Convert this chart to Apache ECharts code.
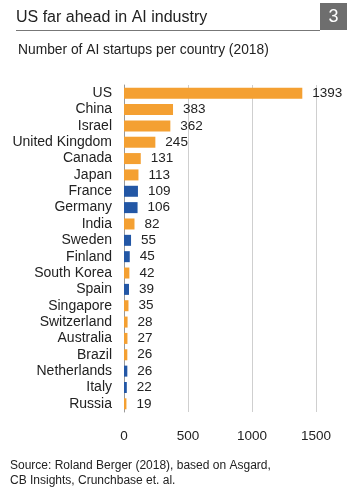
<!DOCTYPE html>
<html><head><meta charset="utf-8">
<script src="https://cdn.jsdelivr.net/npm/echarts@6/dist/echarts.min.js"></script>
<style>html,body{margin:0;padding:0;background:#fff;}#c{width:356px;height:493px;}</style>
</head><body><div id="c"></div>
<script>
const categories = ["US","China","Israel","United Kingdom","Canada","Japan","France","Germany","India","Sweden","Finland","South Korea","Spain","Singapore","Switzerland","Australia","Brazil","Netherlands","Italy","Russia"];
const startups = [1393,383,362,245,131,113,109,106,82,55,45,42,39,35,28,27,26,26,22,19];
const isEU = [false,false,false,false,false,false,true,true,false,true,true,false,true,false,false,false,false,true,true,false];
const xTicks = [0,500,1000,1500];
const ORANGE = '#F4A032', BLUE = '#2357A5';
const FONT = 'Liberation Sans';
const chart = echarts.init(document.getElementById('c'));
chart.setOption({
  animation:false,
  textStyle:{fontFamily:FONT},
  grid:{left:124,right:40,top:85,bottom:81,containLabel:false},
  xAxis:{type:'value',min:xTicks[0],max:xTicks[xTicks.length-1],interval:500,
    axisLine:{show:false},axisTick:{show:false},
    splitLine:{show:true,lineStyle:{color:'#cfcfcf',width:1}},
    axisLabel:{color:'#222',fontSize:13.5,fontFamily:FONT,margin:17,formatter:v=>String(v)}},
  yAxis:{type:'category',inverse:true,data:categories,
    axisLine:{show:true,lineStyle:{color:'#999',width:1}},axisTick:{show:false},
    axisLabel:{color:'#222',fontSize:14,fontFamily:FONT,margin:12,interval:0}},
  series:[{type:'bar',barWidth:11,
    data:startups.map((v,i)=>({value:v,itemStyle:{color:isEU[i]?BLUE:ORANGE}})),
    label:{show:true,position:'right',distance:10,color:'#222',fontSize:13.5,fontFamily:FONT}}],
  graphic:[
    {type:'text',left:16,top:10,style:{text:'US far ahead in AI industry',font:'16px "Liberation Sans"',fill:'#222'}},
    {type:'line',shape:{x1:16,y1:30.5,x2:320,y2:30.5},style:{stroke:'#777',lineWidth:1}},
    {type:'rect',shape:{x:320,y:3,width:27,height:27},style:{fill:'#6e6e6e'}},
    {type:'text',x:333.5,y:17,style:{text:'3',font:'18px "Liberation Sans"',fill:'#fff',align:'center',verticalAlign:'middle'}},
    {type:'text',left:18,top:43,style:{text:'Number of AI startups per country (2018)',font:'13.8px "Liberation Sans"',fill:'#222'}},
    {type:'text',left:10,top:458,style:{text:'Source: Roland Berger (2018), based on Asgard,\nCB Insights, Crunchbase et. al.',font:'12px "Liberation Sans"',fill:'#222',lineHeight:15}}
  ]
});
</script></body></html>
